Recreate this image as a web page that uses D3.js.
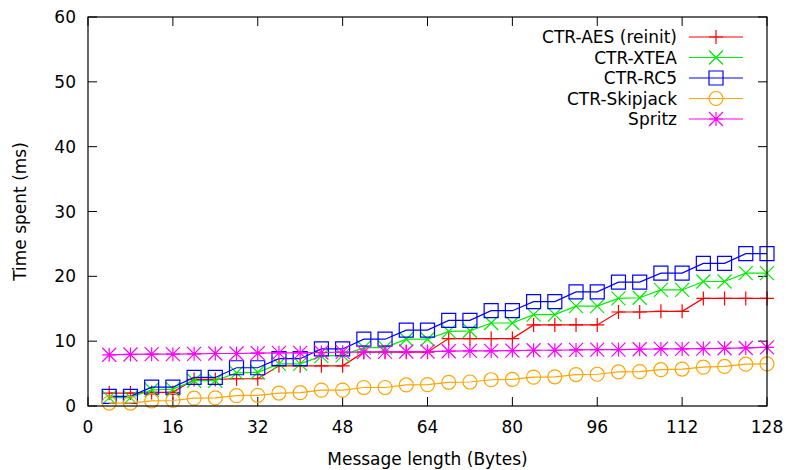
<!DOCTYPE html>
<html>
<head>
<meta charset="utf-8">
<script src="https://cdn.jsdelivr.net/npm/d3@7"></script>
<style>
  html, body { margin: 0; padding: 0; background: #fff; }
  text { font-family: "DejaVu Sans", sans-serif; fill: #000; }
</style>
</head>
<body>
<div id="container"></div>
<script>
// message length (bytes)
const lengths = [4, 8, 12, 16, 20, 24, 28, 32, 36, 40, 44, 48, 52, 56, 60, 64,
                 68, 72, 76, 80, 84, 88, 92, 96, 100, 104, 108, 112, 116, 120, 124, 128];

const aesReinit = [2.0, 2.0, 2.1, 2.1, 4.1, 4.1, 4.2, 4.2, 6.2, 6.2, 6.2, 6.2, 8.3, 8.3, 8.3, 8.3,
                   10.4, 10.4, 10.4, 10.4, 12.5, 12.5, 12.5, 12.5, 14.5, 14.5, 14.6, 14.6, 16.6, 16.6, 16.6, 16.6];
const xtea = [1.3, 1.3, 2.5, 2.6, 3.9, 3.9, 5.1, 5.2, 6.5, 6.5, 7.7, 7.8, 9.0, 9.0, 10.3, 10.3,
              11.5, 11.6, 12.8, 12.8, 14.1, 14.1, 15.4, 15.4, 16.6, 16.7, 17.9, 17.9, 19.2, 19.2, 20.5, 20.5];
const rc5 = [1.5, 1.5, 2.9, 2.9, 4.4, 4.4, 5.9, 5.9, 7.3, 7.3, 8.8, 8.8, 10.3, 10.3, 11.7, 11.7,
             13.2, 13.2, 14.7, 14.7, 16.1, 16.1, 17.6, 17.6, 19.1, 19.1, 20.5, 20.5, 22.0, 22.0, 23.5, 23.5];
const skipjack = [0.45, 0.45, 0.8, 0.85, 1.2, 1.25, 1.6, 1.65, 2.0, 2.05, 2.45, 2.45, 2.85, 2.85, 3.25, 3.3,
                  3.65, 3.7, 4.05, 4.1, 4.45, 4.5, 4.85, 4.9, 5.25, 5.3, 5.6, 5.7, 6.0, 6.1, 6.45, 6.5];
const spritz = [7.9, 7.95, 8.0, 8.0, 8.05, 8.1, 8.1, 8.15, 8.2, 8.2, 8.25, 8.3, 8.3, 8.35, 8.4, 8.4,
                8.45, 8.5, 8.5, 8.55, 8.6, 8.6, 8.65, 8.7, 8.7, 8.75, 8.8, 8.8, 8.85, 8.9, 8.95, 9.05];

const seriesNames = ["CTR-AES (reinit)", "CTR-XTEA", "CTR-RC5", "CTR-Skipjack", "Spritz"];
const seriesValues = [aesReinit, xtea, rc5, skipjack, spritz];
const seriesColors = ["#ff0000", "#00ee00", "#0000ff", "#ffa500", "#ff00ff"];
const seriesMarks = ["plus", "cross", "square", "circle", "star"];

const xTicks = [0, 16, 32, 48, 64, 80, 96, 112, 128];
const yTicks = [0, 10, 20, 30, 40, 50, 60];

const width = 787, height = 470;
const margin = {left: 88, right: 20, top: 17, bottom: 64};
const fs = 17;

const x = d3.scaleLinear().domain([0, 128]).range([margin.left, width - margin.right]);
const y = d3.scaleLinear().domain([0, 60]).range([height - margin.bottom, margin.top]);

const r = 7;
const markPath = {
  plus: `M${-r},0H${r}M0,${-r}V${r}`,
  cross: `M${-r},${-r}L${r},${r}M${-r},${r}L${r},${-r}`,
  square: `M${-r},${-r}H${r}V${r}H${-r}Z`,
  circle: `M${r},0A${r},${r} 0 1,1 ${-r},0A${r},${r} 0 1,1 ${r},0Z`,
  star: `M${-r},0H${r}M0,${-r}V${r}M${-r},${-r}L${r},${r}M${-r},${r}L${r},${-r}`
};

const svg = d3.select("#container").append("svg")
  .attr("width", width)
  .attr("height", height)
  .style("display", "block");

svg.append("rect").attr("width", width).attr("height", height).attr("fill", "#fff");

const x0 = x(0), x1 = x(128), y0 = y(0), y1 = y(60);
const tl = 9;

// ticks (inward, mirrored)
const tickG = svg.append("g").attr("stroke", "#000").attr("stroke-width", 1);
xTicks.forEach(t => {
  tickG.append("line").attr("x1", x(t)).attr("x2", x(t)).attr("y1", y0).attr("y2", y0 - tl);
  tickG.append("line").attr("x1", x(t)).attr("x2", x(t)).attr("y1", y1).attr("y2", y1 + tl);
});
yTicks.forEach(t => {
  tickG.append("line").attr("x1", x0).attr("x2", x0 + tl).attr("y1", y(t)).attr("y2", y(t));
  tickG.append("line").attr("x1", x1).attr("x2", x1 - tl).attr("y1", y(t)).attr("y2", y(t));
});

svg.append("g").selectAll("text").data(xTicks).join("text")
  .attr("x", d => x(d))
  .attr("y", y0 + 27)
  .attr("text-anchor", "middle")
  .attr("font-size", fs)
  .text(d => d);

svg.append("g").selectAll("text").data(yTicks).join("text")
  .attr("x", x0 - 12)
  .attr("y", d => y(d) + 6)
  .attr("text-anchor", "end")
  .attr("font-size", fs)
  .text(d => d);

svg.append("text")
  .attr("x", (x0 + x1) / 2)
  .attr("y", 465)
  .attr("text-anchor", "middle")
  .attr("font-size", fs)
  .text("Message length (Bytes)");

svg.append("text")
  .attr("transform", `translate(26,${(y0 + y1) / 2}) rotate(-90)`)
  .attr("text-anchor", "middle")
  .attr("font-size", fs)
  .text("Time spent (ms)");

// series
const line = d3.line().x(d => x(d[0])).y(d => y(d[1]));

seriesValues.forEach((vals, i) => {
  const pts = lengths.map((l, j) => [l, vals[j]]);
  const g = svg.append("g");
  g.append("path")
    .attr("d", line(pts))
    .attr("fill", "none")
    .attr("stroke", seriesColors[i])
    .attr("stroke-width", 1.2);
  g.selectAll("path.mark").data(pts).join("path")
    .attr("class", "mark")
    .attr("transform", d => `translate(${x(d[0])},${y(d[1])})`)
    .attr("d", markPath[seriesMarks[i]])
    .attr("fill", "none")
    .attr("stroke", seriesColors[i])
    .attr("stroke-width", 1.2);
});

// legend
const legend = svg.append("g");
seriesNames.forEach((name, i) => {
  const ly = 37 + i * 20.5;
  legend.append("text")
    .attr("x", 677)
    .attr("y", ly + 6)
    .attr("text-anchor", "end")
    .attr("font-size", fs)
    .text(name);
  legend.append("line")
    .attr("x1", 689).attr("x2", 743)
    .attr("y1", ly).attr("y2", ly)
    .attr("stroke", seriesColors[i])
    .attr("stroke-width", 1.2);
  legend.append("path")
    .attr("transform", `translate(716,${ly})`)
    .attr("d", markPath[seriesMarks[i]])
    .attr("fill", "none")
    .attr("stroke", seriesColors[i])
    .attr("stroke-width", 1.2);
});

// border
svg.append("rect")
  .attr("x", x0).attr("y", y1)
  .attr("width", x1 - x0).attr("height", y0 - y1)
  .attr("fill", "none")
  .attr("stroke", "#000")
  .attr("stroke-width", 1.2);
</script>
</body>
</html>
